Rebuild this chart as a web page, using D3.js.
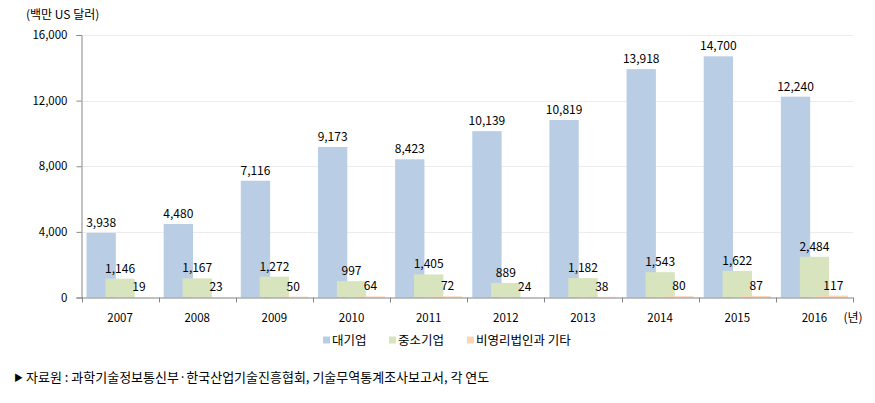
<!DOCTYPE html>
<html>
<head>
<meta charset="utf-8">
<script src="https://cdn.jsdelivr.net/npm/d3@7"></script>
<style>
  body { margin: 0; background: #fff; }
  svg text { font-family: "Noto Sans CJK KR", "Noto Sans", sans-serif; fill: #000; }
</style>
</head>
<body>
<svg id="chart" width="875" height="403"></svg>
<script>
const years = ["2007","2008","2009","2010","2011","2012","2013","2014","2015","2016"];
const seriesNames = ["대기업", "중소기업", "비영리법인과 기타"];
const large = [3938, 4480, 7116, 9173, 8423, 10139, 10819, 13918, 14700, 12240];
const sme = [1146, 1167, 1272, 997, 1405, 889, 1182, 1543, 1622, 2484];
const nonprofit = [19, 23, 50, 64, 72, 24, 38, 80, 87, 117];
const yTicks = [0, 4000, 8000, 12000, 16000];
const colors = ["#b9cde5", "#d7e4bd", "#fcd5b5"];

(function () {
const series = [large, sme, nonprofit];
const svg = d3.select("#chart");
const pLeft = 81.5, pRight = 853, pTop = 35, pBottom = 297.5;

const x = d3.scaleBand().domain(years).range([pLeft, pRight]).padding(0);
const y = d3.scaleLinear().domain([0, 16000]).range([pBottom, pTop]);
const bw = x.bandwidth();
const w = bw * 0.38, step = bw * 0.245;
const start = (bw - (w + 2 * step)) / 2;

// gridlines
svg.append("g").selectAll("line").data(yTicks.filter(d => d > 0)).join("line")
  .attr("x1", pLeft).attr("x2", pRight)
  .attr("y1", d => Math.round(y(d)) + 0.5).attr("y2", d => Math.round(y(d)) + 0.5)
  .attr("stroke", "#ececec").attr("stroke-width", 1);

// bars
series.forEach((vals, si) => {
  svg.append("g").selectAll("rect").data(vals).join("rect")
    .attr("x", (d, i) => x(years[i]) + start + si * step)
    .attr("width", w)
    .attr("y", d => y(d))
    .attr("height", d => pBottom - y(d))
    .attr("fill", colors[si]);
});

// axes
const yAxis = d3.axisLeft(y).tickValues(yTicks).tickSize(5).tickFormat(d3.format(","));
const gy = svg.append("g").attr("transform", `translate(${pLeft},0)`).call(yAxis);
gy.select(".domain").attr("stroke", "#868686");
gy.selectAll(".tick line").attr("stroke", "#868686");
gy.selectAll(".tick text").attr("font-size", 11.5).attr("x", -14)
  .style("font-family", '"Noto Sans CJK KR", sans-serif');

const gx = svg.append("g").attr("transform", `translate(0,${pBottom})`);
gx.append("line").attr("x1", pLeft).attr("x2", pRight).attr("y1", 0.5).attr("y2", 0.5).attr("stroke", "#868686");
const bounds = years.map(d => x(d)).concat([pRight]);
gx.selectAll(".tk").data(bounds).join("line").attr("class", "tk")
  .attr("x1", d => Math.round(d) + 0.5).attr("x2", d => Math.round(d) + 0.5)
  .attr("y1", 0).attr("y2", 5).attr("stroke", "#868686");
gx.selectAll(".yl").data(years).join("text").attr("class", "yl")
  .attr("x", d => x(d) + bw / 2).attr("y", 24)
  .attr("text-anchor", "middle").attr("font-size", 11.5).text(d => d);
gx.append("text").attr("x", 853).attr("y", 24).attr("text-anchor", "middle")
  .attr("font-size", 12).text("(년)");

// labels
const fmt = d3.format(",");
series.forEach((vals, si) => {
  svg.append("g").selectAll("text").data(vals).join("text")
    .attr("x", (d, i) => x(years[i]) + start + si * step + w / 2)
    .attr("y", d => y(d) - 6)
    .attr("text-anchor", "middle").attr("font-size", 12)
    .text(d => fmt(d));
});

// y title
svg.append("text").attr("x", 26).attr("y", 19).attr("font-size", 12).text("(백만 US 달러)");

// legend
const legX = [323, 389, 467];
seriesNames.forEach((n, i) => {
  svg.append("rect").attr("x", legX[i]).attr("y", 336.5).attr("width", 7).attr("height", 7).attr("fill", colors[i]);
  svg.append("text").attr("x", legX[i] + 9).attr("y", 345).attr("font-size", 12.5).text(n);
});

// footnote
svg.append("text").attr("x", 14).attr("y", 381).attr("font-size", 9).text("▶");
svg.append("text").attr("x", 26).attr("y", 382).attr("font-size", 13)
  .text("자료원 : 과학기술정보통신부·한국산업기술진흥협회, 기술무역통계조사보고서, 각 연도");
})();
</script>
</body>
</html>
